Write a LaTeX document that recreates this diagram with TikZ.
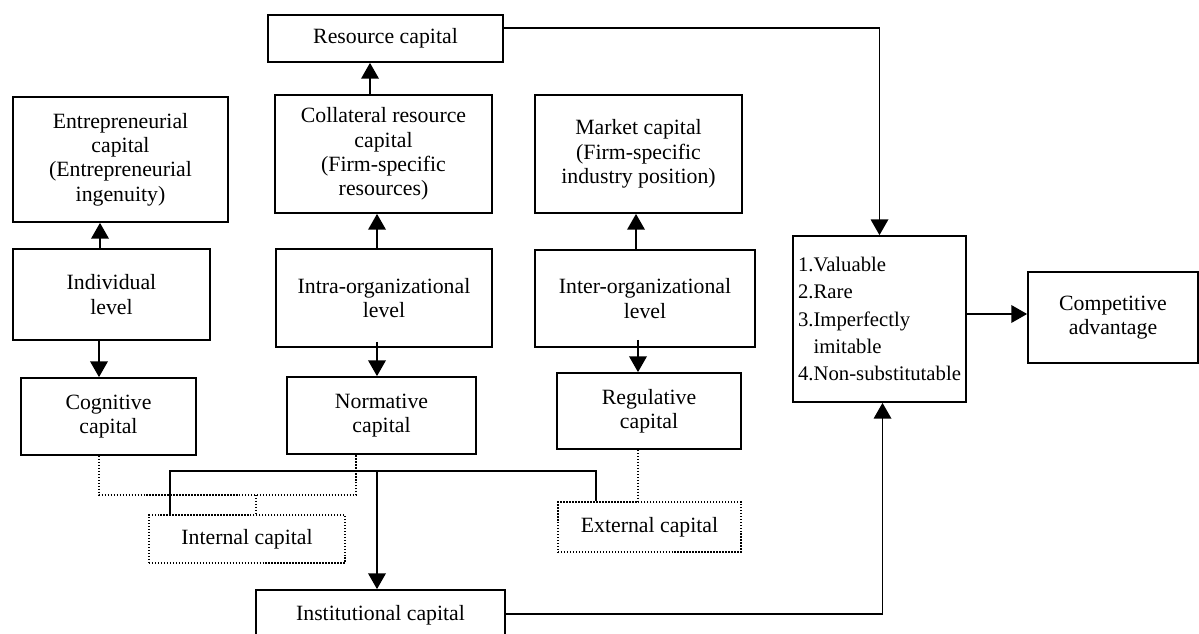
\documentclass[tikz,border=0pt]{standalone}
\usepackage{fontspec}
\setmainfont{Liberation Serif}
\usetikzlibrary{positioning}
\usetikzlibrary{arrows.meta}
\usetikzlibrary{calc}

\tikzset{
	sz/.style 2 args={minimum width=#1*0.02cm, minimum height=#2*0.02cm},
	dots/.style={line width=0.9pt, dash pattern=on 0.8pt off 0.9pt},
}

\begin{document}
\begin{tikzpicture}[x=0.02cm, y=-0.02cm]
	\useasboundingbox (0,0) rectangle (1199,633);
	\clip (0,0) rectangle (1199,633);

	\begin{scope}[every node/.style={draw, line width=1pt, inner sep=0pt, align=center, font=\fontsize{12.4}{13.9}\selectfont}]
	    \node (res) [sz={235}{47}] at (385.5,38.5) {Resource capital};
	    \node (ent) [sz={215}{125}] at (120.5,159.5) {Entrepreneurial\\capital\\(Entrepreneurial\\ingenuity)};
	    \node (col) [sz={217}{118}] at (383.5,154) {Collateral resource\\capital\\(Firm-specific\\resources)};
	    \node (mkt) [sz={207}{118}] at (638.5,154) {Market capital\\(Firm-specific\\industry position)};
	    \node (ind) [sz={197}{91}] at (111.5,294.5) {Individual\\level};
	    \node (intra) [sz={216}{98}] at (384,298) {Intra-organizational\\level};
	    \node (inter) [sz={220}{97}] at (645,298.5) {Inter-organizational\\level};
	    \node (cog) [sz={175}{77}] at (108.5,416.5) {Cognitive\\capital};
	    \node (nor) [sz={189}{77}] at (381.5,415.5) {Normative\\capital};
	    \node (reg) [sz={184}{76}] at (649,411) {Regulative\\capital};
	    \node (inst) [sz={249}{50}] at (380.5,615) {Institutional capital};
	    \node (crit) [sz={173}{166}, align=left, font=\fontsize{11.8}{15.6}\selectfont] at (879.5,319)
	        {1.Valuable\\2.Rare\\3.Imperfectly\\\phantom{3.}imitable\\4.Non-substitutable};
	    \node (comp) [sz={170}{91}] at (1113,317.5) {Competitive\\advantage};
	\end{scope}

	\begin{scope}[every node/.style={draw, dots, inner sep=0pt, align=center, font=\fontsize{12.4}{13.9}\selectfont}]
	    \node (intl) [sz={196}{48}] at (247,539) {Internal capital};
	    \node (extl) [sz={183}{50}] at (649.5,527) {External capital};
	\end{scope}

	\begin{scope}[>={Triangle[length=9pt,width=10pt]}, line width=1pt]
	    % levels to the capitals above and below
	    \draw [->] ($(ind.north)+(-11.5,0)$) -- ($(ent.south)+(-20.5,0)$);
	    \draw [->] ($(ind.south)+(-12.5,0)$) -- ($(cog.north)+(-9.5,0)$);
	    \draw [->] ($(intra.north)+(-7,0)$) -- ($(col.south)+(-6.5,0)$);
	    \draw [->] ($(col.north)+(-13.5,0)$) -- ($(res.south)+(-15.5,0)$);
	    \draw [->] ($(intra.south)+(-7,-6)$) -- ($(nor.north)+(-4.5,0)$);
	    \draw [->] ($(inter.north)+(-9,0)$) -- ($(mkt.south)+(-2.5,0)$);
	    \draw [->] ($(inter.south)+(-7,-8)$) -- ($(reg.north)+(-11,0)$);

	    % to the VRIN box and on
	    \draw [->] ($(res.east)+(0,-10.5)$) -| (crit.north);
	    \draw [->] ($(crit.east)+(0,-5)$) -- ($(comp.west)+(0,-3.5)$);
	    \draw [->] ($(inst.east)+(0,-1)$) -| ($(crit.south)+(3,0)$);

	    % internal and external capital join into institutional capital
	    \coordinate (bus) at (377,471);
	    \draw ($(intl.north west)+(22,0)$) |- (bus) -| ($(extl.north west)+(39,0)$);
	    \draw [->] (bus) -- (bus |- inst.north);
	\end{scope}

	% dotted links
	\coordinate (ijoin) at (256,495);
	\draw [dots] ($(cog.south)+(-9.5,0)$) |- (ijoin) -| ($(nor.south)+(-25.5,0)$);
	\draw [dots] (ijoin) -- (ijoin |- intl.north);
	\draw [dots] ($(reg.south)+(-11,0)$) -- ($(extl.north)+(-11.5,0)$);
\end{tikzpicture}
\end{document}
